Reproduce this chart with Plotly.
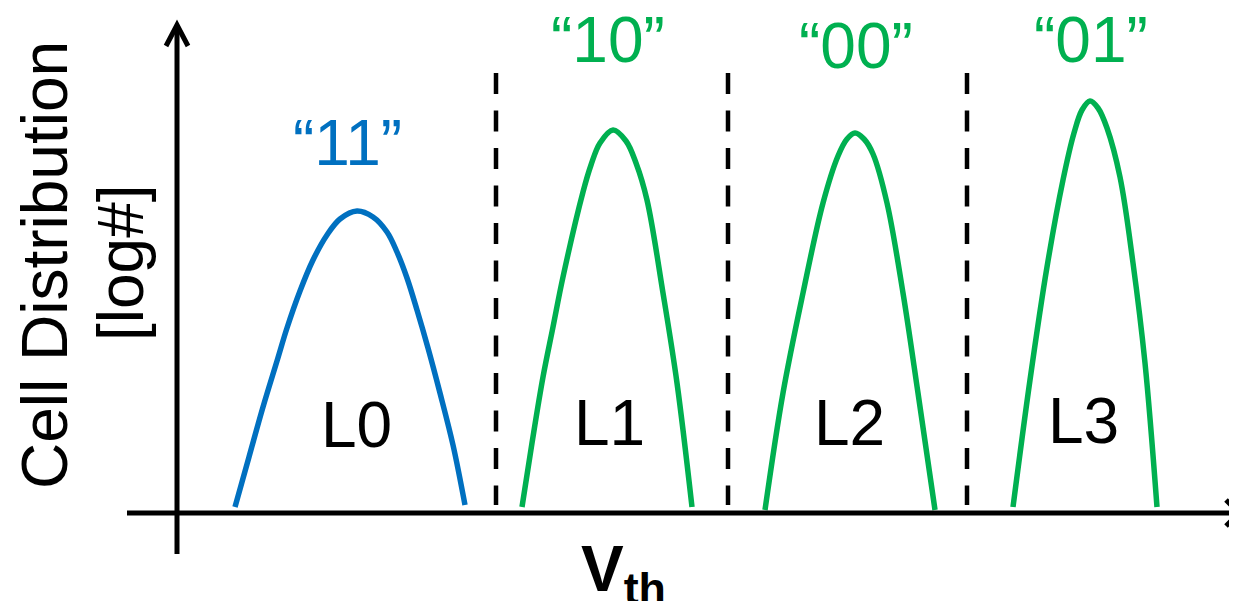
import plotly.graph_objects as go

# ---- data (Vth units / log-count units, origin at axes crossing) ----
state_codes = ["“11”", "“10”", "“00”", "“01”"]
level_names = ["L0", "L1", "L2", "L3"]

vth_L0 = [58, 72, 86, 100, 110, 123, 136, 150, 163, 180, 196, 210, 220, 230, 240, 251, 263, 276, 288]
cnt_L0 = [6, 56, 106, 152, 185, 222, 253, 278, 294, 302, 296, 281, 261, 235, 203, 165, 120, 68, 8]

vth_L1 = [345, 355, 366, 376, 386, 406, 414, 423, 436, 449, 459, 470, 486, 500, 515]
cnt_L1 = [6, 70, 136, 186, 236, 321, 348, 370, 383, 372, 350, 313, 220, 130, 6]

vth_L2 = [588, 606, 626, 646, 661, 670, 678, 687, 696, 710, 726, 741, 758]
cnt_L2 = [3, 120, 220, 310, 357, 374, 380, 374, 359, 310, 220, 120, 3]

vth_L3 = [836, 853, 870, 886, 897, 905, 913, 921, 930, 943, 956, 968, 980]
cnt_L3 = [6, 133, 246, 333, 380, 403, 412, 405, 385, 336, 250, 150, 6]

read_refs = [319, 551, 790]

BLUE = "#0070C0"
GREEN = "#00B050"
FONT = "Liberation Sans, Arial, sans-serif"

curves = [(vth_L0, cnt_L0, BLUE), (vth_L1, cnt_L1, GREEN),
          (vth_L2, cnt_L2, GREEN), (vth_L3, cnt_L3, GREEN)]

fig = go.Figure()
for xs, ys, col in curves:
    fig.add_trace(go.Scatter(x=xs, y=ys, mode="lines",
                             line=dict(color=col, width=5.5, shape="spline", smoothing=1.0),
                             hoverinfo="skip", showlegend=False))

shapes = []
# read reference dashed lines
for r in read_refs:
    shapes.append(dict(type="line", xref="x", yref="y", x0=r, x1=r, y0=440, y1=8,
                       line=dict(color="black", width=4.5, dash="21px,16.5px")))
# axes
shapes.append(dict(type="line", xref="x", yref="y", x0=-50, x1=1062, y0=0, y1=0,
                   line=dict(color="black", width=5), layer="above"))
shapes.append(dict(type="line", xref="x", yref="y", x0=0, x1=0, y0=-41, y1=488,
                   line=dict(color="black", width=5), layer="above"))
# arrow heads (open chevrons)
shapes.append(dict(type="path", xref="x", yref="y",
                   path="M -11,467 L 0,488 L 11,467",
                   line=dict(color="black", width=5), layer="above"))
shapes.append(dict(type="path", xref="x", yref="y",
                   path="M 1049,13 L 1062,0 L 1049,-13",
                   line=dict(color="black", width=5), layer="above"))

annotations = []
code_pos = [(170, 370), (431, 473), (679, 467), (914, 473)]
code_col = [BLUE, GREEN, GREEN, GREEN]
for t, (x, y), c in zip(state_codes, code_pos, code_col):
    annotations.append(dict(x=x, y=y, xref="x", yref="y", text=t, showarrow=False,
                            xanchor="center", yanchor="middle",
                            font=dict(family=FONT, size=64, color=c)))
lvl_pos = [(179, 88), (432, 90), (672, 90), (906, 92)]
for t, (x, y) in zip(level_names, lvl_pos):
    annotations.append(dict(x=x, y=y, xref="x", yref="y", text=t, showarrow=False,
                            xanchor="center", yanchor="middle",
                            font=dict(family=FONT, size=64, color="black")))
# axis titles
annotations.append(dict(x=-132, y=248, xref="x", yref="y", text="Cell Distribution",
                        textangle=-90, showarrow=False, xanchor="center", yanchor="middle",
                        font=dict(family=FONT, size=64, color="black")))
annotations.append(dict(x=-56, y=250, xref="x", yref="y", text="[log#]",
                        textangle=-90, showarrow=False, xanchor="center", yanchor="middle",
                        font=dict(family=FONT, size=64, color="black")))
annotations.append(dict(x=446, y=-60, xref="x", yref="y", text="<b>V<sub>th</sub></b>",
                        showarrow=False, xanchor="center", yanchor="middle",
                        font=dict(family=FONT, size=64, color="black")))

# page body has an 8px margin; figure is sized to fill the rest of the window
fig.update_layout(
    width=1229, height=593,
    margin=dict(l=0, r=0, t=0, b=0),
    paper_bgcolor="white", plot_bgcolor="white",
    xaxis=dict(range=[-169, 1060], visible=False, fixedrange=True),
    yaxis=dict(range=[-88, 505], visible=False, fixedrange=True),
    shapes=shapes, annotations=annotations,
    showlegend=False,
)
fig.write_html("out.html")
